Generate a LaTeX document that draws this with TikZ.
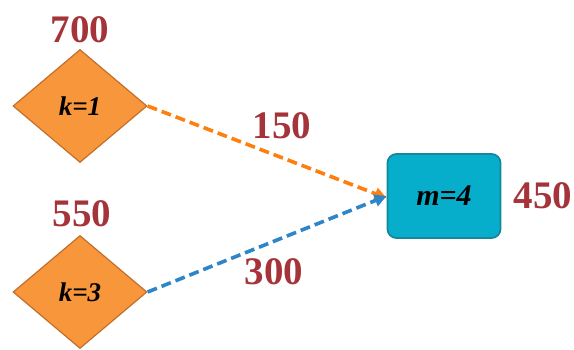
\documentclass[tikz,border=0pt]{standalone}
\usepackage{fontspec}
\setmainfont{Liberation Serif}
\usetikzlibrary{shapes.geometric,arrows.meta}
\definecolor{numred}{HTML}{A5343A}
\definecolor{dfill}{HTML}{F7963B}
\definecolor{dborder}{HTML}{C46F2C}
\definecolor{bfill}{HTML}{06AECB}
\definecolor{bborder}{HTML}{15889A}
\definecolor{orangeline}{HTML}{FF7F0E}
\definecolor{blueline}{HTML}{2E86C8}
\tikzset{
  kdia/.style={diamond, draw=dborder, fill=dfill, line width=1.2pt, minimum width=134pt, minimum height=113pt, inner sep=0pt, aspect=1.18, font=\fontsize{27}{30}\selectfont\bfseries\itshape},
  mbox/.style={rectangle, rounded corners=9pt, draw=bborder, fill=bfill, line width=1.8pt, minimum width=113pt, minimum height=84pt, inner sep=0pt, font=\fontsize{30}{33}\selectfont\bfseries\itshape},
  num/.style={text=numred, font=\fontsize{39}{42}\selectfont\bfseries, inner sep=0pt},
  flow/.style={dashed, dash pattern=on 10pt off 5pt, line width=3.6pt, -{Triangle[length=12pt,width=12pt]}}
}
\begin{document}
\begin{tikzpicture}[x=1pt,y=-1pt]
\useasboundingbox (0,0) rectangle (574,350);
\node[kdia] (k1) at (80,106) {k=1};
\node[kdia] (k3) at (80,292) {k=3};
\node[mbox] (m4) at (444,196) {m=4};
\node[num] (n700) at (80,30) {700};
\node[num] (n550) at (82,214) {550};
\node[num] (n450) at (543,196) {450};
\node[num] (n150) at (282,126) {150};
\node[num] (n300) at (274,272) {300};
\draw[flow, orangeline] (k1.east) -- ([yshift=-2pt]m4.west);
\draw[flow, blueline] (k3.east) -- ([yshift=0pt]m4.west);
\end{tikzpicture}
\end{document}
